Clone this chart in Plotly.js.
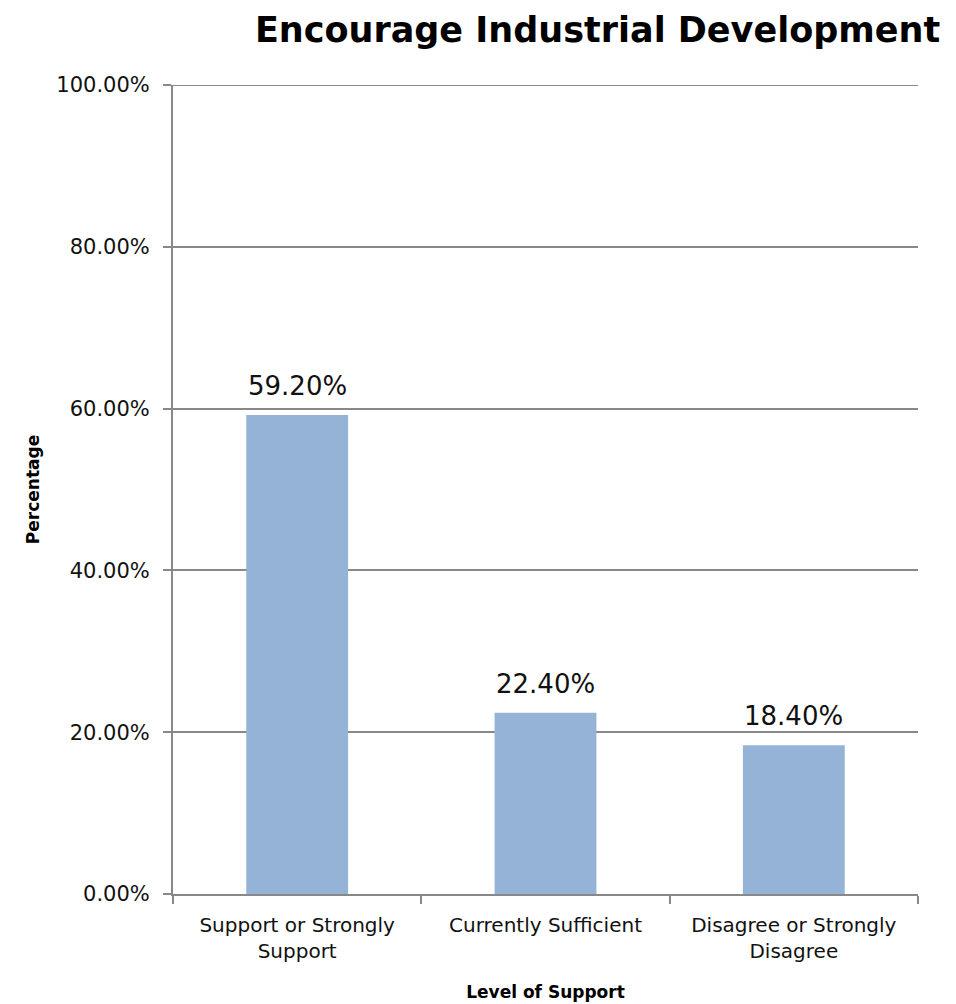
<!DOCTYPE html>
<html>
<head>
<meta charset="utf-8">
<script src="https://cdn.plot.ly/plotly-3.0.1.min.js"></script>
<style>
  html, body { margin: 0; padding: 0; background: #fff; }
  #chart { width: 956px; height: 1004px; }
</style>
</head>
<body>
<div id="chart"></div>
<script>
// Survey responses: level of support for industrial development
const categories = ["Support or Strongly<br>Support", "Currently Sufficient", "Disagree or Strongly<br>Disagree"];
const percentages = [59.20, 22.40, 18.40];
const labels = percentages.map(v => v.toFixed(2) + "%");

const font = "'DejaVu Sans', sans-serif";

const trace = {
  type: "bar",
  x: categories,
  y: percentages,
  marker: { color: "#95B3D7" },
  hoverinfo: "skip"
};

// value labels sit a little above each bar
const valueLabels = categories.map((c, i) => ({
  x: c, y: percentages[i], xref: "x", yref: "y",
  text: labels[i], showarrow: false,
  yanchor: "bottom", yshift: 12,
  font: { family: font, size: 26, color: "#111" }
}));

const layout = {
  width: 956,
  height: 1004,
  margin: { l: 173, r: 38, t: 85, b: 110 },
  paper_bgcolor: "#fff",
  plot_bgcolor: "#fff",
  showlegend: false,
  bargap: 0.59,
  title: {
    text: "<b>Encourage Industrial Development</b>",
    font: { family: font, size: 35, color: "#000" },
    x: 0.625, xanchor: "center",
    y: 0.97, yanchor: "middle"
  },
  xaxis: {
    showline: true, linecolor: "#888", linewidth: 2,
    ticks: "outside", tickson: "boundaries", ticklen: 8, tickcolor: "#888", tickwidth: 2,
    ticklabelstandoff: 12,
    tickfont: { family: font, size: 20, color: "#111" },
    title: { text: "<b>Level of Support</b>", font: { family: font, size: 17, color: "#000" }, standoff: 24 }
  },
  yaxis: {
    range: [0, 100],
    dtick: 20,
    tickformat: ".2f",
    ticksuffix: "%",
    showline: true, linecolor: "#888", linewidth: 2,
    showgrid: true, gridcolor: "#888", gridwidth: 2,
    ticks: "outside", ticklen: 8, tickcolor: "#888", tickwidth: 2,
    ticklabelstandoff: 9,
    tickfont: { family: font, size: 21, color: "#111" },
    zeroline: false,
    title: { text: "<b>Percentage</b>", font: { family: font, size: 17, color: "#000" }, standoff: 12 }
  },
  annotations: valueLabels,
  shapes: [{
    type: "line", xref: "paper", yref: "y", x0: 0, x1: 1, y0: 100, y1: 100,
    line: { color: "#888", width: 2 }
  }]
};

Plotly.newPlot("chart", [trace], layout, { displayModeBar: false, staticPlot: true });
</script>
</body>
</html>
